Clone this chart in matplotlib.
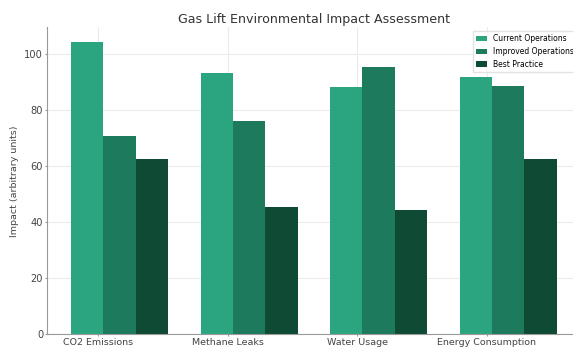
import numpy as np
import matplotlib.pyplot as plt

categories = ["CO2 Emissions", "Methane Leaks", "Water Usage", "Energy Consumption"]
current_ops = [104.3, 93.2, 88.3, 91.8]
improved_ops = [70.8, 76.2, 95.4, 88.7]
best_practice = [62.4, 45.3, 44.4, 62.6]

series_names = ["Current Operations", "Improved Operations", "Best Practice"]
colors = ["#2ba57f", "#1d7a5c", "#0e4a34"]

fig = plt.figure(figsize=(5.73, 3.49), dpi=100)
ax = fig.add_axes([0.0815, 0.042, 0.9325, 0.880])

x = np.arange(len(categories))
width = 0.25
for i, vals in enumerate([current_ops, improved_ops, best_practice]):
    ax.bar(x + i * width - width / 3, vals, width, color=colors[i], label=series_names[i], zorder=2)

ax.set_xticks(x)
ax.set_xticklabels(categories, fontsize=6.8)
ax.set_ylabel("Impact (arbitrary units)", fontsize=6.8, color="#444444", labelpad=4)
ax.set_title("Gas Lift Environmental Impact Assessment", fontsize=9.1, color="#333333", pad=3)

# light grid behind the bars, only left and bottom spines
ax.grid(True, color="#ececec", linewidth=0.8, zorder=0)
ax.set_axisbelow(True)
for side in ["top", "right"]:
    ax.spines[side].set_visible(False)
for side in ["left", "bottom"]:
    ax.spines[side].set_color("#999999")
ax.tick_params(axis="both", colors="#444444", length=1.5, color="#999999", pad=1)
ax.tick_params(axis="y", labelsize=7.1)

ax.legend(loc="upper right", fontsize=5.5, frameon=True, edgecolor="#dddddd",
          fancybox=False, handlelength=1.4)

fig.savefig("out.png", dpi=100)
